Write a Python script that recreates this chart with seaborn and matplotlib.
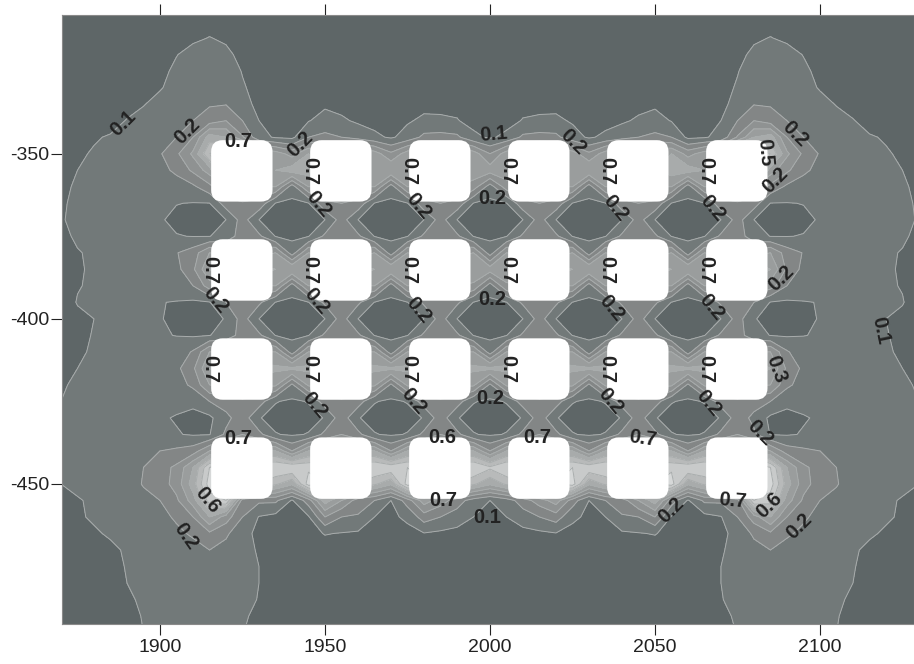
import numpy as np
import matplotlib
matplotlib.use("Agg")
import matplotlib.pyplot as plt
from matplotlib.patches import FancyBboxPatch
import seaborn as sns

sns.set_theme(style="ticks")
plt.rcParams["font.family"] = ["Liberation Sans", "DejaVu Sans"]

# grid nodes, left half only (the field mirrors around x = 2000)
x_nodes = list(range(1870, 2005, 5))
y_nodes = list(range(-305, -500, -5))

# field, in thousandths
field_left = [
    [50,50,50,50,50,50,50,50,50,50,50,50,50,50,50,50,50,50,50,50,50,50,50,50,50,50,50],
    [50,50,50,50,50,50,50,60,70,80,70,60,50,50,50,50,50,50,50,50,50,50,50,50,50,50,50],
    [50,50,50,50,50,50,60,75,90,102,92,70,55,50,50,50,50,50,50,50,50,50,50,50,50,50,50],
    [50,50,50,50,50,60,75,98,120,130,112,85,60,50,50,50,50,50,50,50,50,50,50,50,50,50,50],
    [50,50,50,50,55,65,85,112,140,150,130,97,70,50,50,50,50,50,50,50,50,50,50,50,50,50,50],
    [50,50,50,55,60,75,95,122,150,165,150,106,80,55,50,50,55,50,50,50,50,50,50,50,50,50,50],
    [50,50,55,65,80,97,120,140,165,190,195,120,85,60,55,60,85,70,60,55,55,60,75,80,75,60,55],
    [55,58,65,80,103,120,140,170,200,250,300,200,100,75,70,95,135,115,85,70,62,90,118,112,105,72,62],
    [60,72,95,105,115,135,160,200,300,550,500,310,130,90,78,200,225,200,165,120,88,135,225,235,220,120,88],
    [75,92,105,115,125,150,190,280,420,700,800,800,500,450,360,500,500,500,500,450,320,450,500,500,500,450,300],
    [82,100,110,118,125,135,170,220,320,450,800,800,500,500,550,550,500,500,500,500,500,500,500,500,500,470,450],
    [92,105,110,115,120,130,140,155,180,270,400,400,400,400,150,400,400,400,400,400,150,400,400,400,400,350,150],
    [97,105,110,112,115,118,115,102,97,98,250,290,270,97,80,97,280,300,270,97,80,97,270,300,270,97,80],
    [98,106,110,112,112,112,106,85,70,75,100,245,100,65,50,65,100,245,100,65,50,65,100,245,100,65,50],
    [92,105,108,110,112,115,113,103,98,98,130,260,220,97,80,97,220,260,220,97,80,97,220,260,220,97,80],
    [80,98,105,108,112,120,125,195,250,400,350,350,350,400,150,400,350,350,350,400,150,400,350,350,350,400,150],
    [78,97,104,108,112,120,130,170,280,500,600,600,550,500,500,500,550,600,550,500,500,500,550,600,550,480,450],
    [80,98,105,108,112,118,125,160,200,350,400,400,400,400,150,400,400,400,400,400,150,400,400,400,400,380,150],
    [82,102,107,110,112,113,103,95,85,95,200,260,220,97,80,97,220,260,220,97,80,97,220,260,220,97,80],
    [80,92,100,108,110,112,105,80,65,75,105,245,100,65,50,65,100,245,100,65,50,65,100,245,100,65,50],
    [82,92,102,108,110,112,106,98,90,98,125,255,220,97,80,97,220,255,220,97,80,97,220,255,220,97,80],
    [85,95,104,110,112,118,125,140,210,400,400,400,400,400,150,400,400,400,400,400,150,400,400,400,400,400,150],
    [92,100,106,110,113,120,130,175,280,500,600,600,550,520,520,520,550,600,550,520,520,520,550,600,550,520,520],
    [98,103,108,112,115,120,130,160,220,400,420,420,420,420,180,420,420,420,420,420,180,420,420,420,420,420,180],
    [100,105,108,110,113,118,122,120,125,200,250,280,250,105,85,105,250,280,250,105,85,105,250,280,250,105,85],
    [105,108,108,110,112,112,108,95,70,80,170,260,105,70,50,70,105,260,105,70,50,70,105,260,105,70,50],
    [105,108,110,112,113,113,112,105,92,95,220,300,230,105,88,105,230,300,230,105,88,105,230,300,230,105,88],
    [105,108,112,115,120,140,200,220,250,400,500,500,500,500,300,500,500,500,500,500,300,500,500,500,500,500,300],
    [105,108,112,118,122,200,260,320,500,800,900,900,800,800,800,780,800,800,800,800,780,800,800,800,800,800,720],
    [100,106,110,115,135,210,250,340,550,850,900,900,700,620,520,850,800,800,700,620,520,850,800,800,700,620,520],
    [90,98,104,110,120,160,200,280,450,750,800,250,220,220,90,250,550,400,250,200,100,250,450,350,250,150,100],
    [85,95,105,108,112,130,160,220,300,500,350,200,95,70,60,90,300,200,190,100,80,120,250,200,150,100,60],
    [70,82,95,105,110,120,140,170,220,280,220,120,85,60,50,70,105,95,85,60,50,70,95,80,70,60,50],
    [65,75,85,92,105,115,125,140,150,200,160,110,97,55,50,50,55,55,50,50,50,50,50,50,50,50,50],
    [60,70,80,90,102,110,115,120,125,130,125,110,100,50,50,50,50,50,50,50,50,50,50,50,50,50,50],
    [55,65,75,88,100,107,112,115,118,120,117,108,100,50,50,50,50,50,50,50,50,50,50,50,50,50,50],
    [55,62,70,82,95,105,108,112,113,115,113,106,99,50,50,50,50,50,50,50,50,50,50,50,50,50,50],
    [50,58,65,78,90,102,105,108,110,110,108,103,95,50,50,50,50,50,50,50,50,50,50,50,50,50,50],
    [50,55,62,75,85,100,103,105,106,106,105,101,90,50,50,50,50,50,50,50,50,50,50,50,50,50,50],
]

levels = [0.0, 0.1, 0.2, 0.3, 0.4, 0.5, 0.6, 0.7, 0.8, 0.9, 1.0]
band_colors = ["#5e6667", "#727979", "#838686", "#8f9292", "#9a9d9d",
               "#a8abab", "#b8baba", "#c8caca", "#d6d8d8", "#e2e2e2"]

hole_x = [1924.8, 1954.8, 1984.8, 2014.8, 2044.8, 2074.8]
hole_y = [-355.2, -385.2, -415.2, -445.2]

# contour labels as they sit in the picture: x, y, text, rotation
labels = [
    (1888.8, -340.8, "0.1", 45), (1908.2, -343.2, "0.2", 45), (1923.6, -346.4, "0.7", 0),
    (1942.4, -347, "0.2", 45), (1945.4, -355.2, "0.7", -90), (1975.4, -355.2, "0.7", -90),
    (2005.4, -355.2, "0.7", -90), (2035.4, -355.2, "0.7", -90), (2065.4, -355.2, "0.7", -90),
    (2001, -344.2, "0.1", 5), (2025.2, -346.4, "0.2", -45), (1947.9, -365.2, "0.2", -50),
    (1978.2, -365.8, "0.2", -50), (2037.9, -366.4, "0.2", -50), (2067.3, -366.4, "0.2", -50),
    (2000.6, -363.7, "0.2", 0), (2083.3, -349.7, "0.5", -85), (2092.4, -343.9, "0.2", -45),
    (2086.4, -358, "0.2", 45),
    (1915.2, -385.2, "0.7", -90), (1945.4, -385.2, "0.7", -90), (1975.4, -385.2, "0.7", -90),
    (2005.4, -385.2, "0.7", -90), (2035.4, -385.2, "0.7", -90), (2065.4, -385.2, "0.7", -90),
    (1916.7, -394.5, "0.2", -50), (1947.3, -394.8, "0.2", -50), (1978.2, -397.3, "0.2", -50),
    (2000.6, -394.2, "0.2", 0), (2036.7, -396.7, "0.2", -50), (2067, -396.4, "0.2", -50),
    (2088.2, -387.6, "0.2", 45), (2118.5, -403.6, "0.1", -78),
    (1915.2, -415.2, "0.7", -90), (1945.4, -415.2, "0.7", -90), (1975.4, -415.2, "0.7", -90),
    (2005.4, -415.2, "0.7", -90), (2035.4, -415.2, "0.7", -90), (2065.4, -415.2, "0.7", -90),
    (1946.9, -426.1, "0.2", -50), (1976.9, -424.8, "0.2", -50), (2000, -424.2, "0.2", 0),
    (2036.4, -424.8, "0.2", -50), (2066.1, -425.5, "0.2", -50), (2086.7, -415.2, "0.3", -70),
    (2081.8, -434.6, "0.2", -45),
    (1923.6, -436.1, "0.7", 0), (1985.5, -435.8, "0.6", 0), (2014.2, -435.8, "0.7", 0),
    (2046.4, -436.1, "0.7", -8), (1914.5, -455, "0.6", -50), (1907.9, -465.9, "0.2", -55),
    (1985.9, -455, "0.7", 0), (1999.1, -460.2, "0.1", 0), (2055, -458, "0.2", 45),
    (2073.5, -455, "0.7", -5), (2084.7, -456.5, "0.6", 45), (2093.7, -462.7, "0.2", 45),
]

field = np.array(field_left) / 1000.0
field = np.hstack([field, field[:, -2::-1]])
x_all = np.array(x_nodes + [2 * 2000 - v for v in x_nodes[-2::-1]])
y_all = np.array(y_nodes)

fig = plt.figure(figsize=(9.14, 6.64), dpi=100)
ax = fig.add_axes([62 / 914, 1 - 624 / 664, (914 - 62) / 914, (624 - 15) / 664])

palette = sns.blend_palette(band_colors, n_colors=len(band_colors))
ax.contourf(x_all, y_all, field, levels=levels, colors=palette)
ax.contour(x_all, y_all, field, levels=levels[1:-1], colors="#a9adad", linewidths=0.7)

half = 9.3
round_r = 3.5
for hx in hole_x:
    for hy in hole_y:
        ax.add_patch(FancyBboxPatch((hx - half + round_r, hy - half + round_r),
                                    2 * (half - round_r), 2 * (half - round_r),
                                    boxstyle=f"round,pad={round_r},rounding_size={round_r}",
                                    facecolor="white", edgecolor="none", zorder=3))

for lx, ly, txt, rot in labels:
    ax.text(lx, ly, txt, rotation=rot, ha="center", va="center", fontsize=14.5,
            fontweight="bold", color="#222222", zorder=5, rotation_mode="anchor")

ax.set_xlim(1870.3, 2128.5)
ax.set_ylim(-492.4, -308)
ax.set_xticks([1900, 1950, 2000, 2050, 2100])
ax.set_yticks([-350, -400, -450])
ax.tick_params(axis="x", top=True, bottom=True, length=8, width=0.8, color="#222222",
               labelsize=14, labelcolor="#222222", pad=3)
ax.tick_params(axis="y", left=True, length=8, width=0.8, color="#222222",
               labelsize=14, labelcolor="#222222", pad=1)
for side in ["top", "left", "bottom", "right"]:
    ax.spines[side].set_color("#8a8a8a")
    ax.spines[side].set_linewidth(0.8)
ax.yaxis.set_major_formatter(matplotlib.ticker.FuncFormatter(lambda v, p: f"{v:.0f}"))

plt.savefig("out.png", dpi=100)
